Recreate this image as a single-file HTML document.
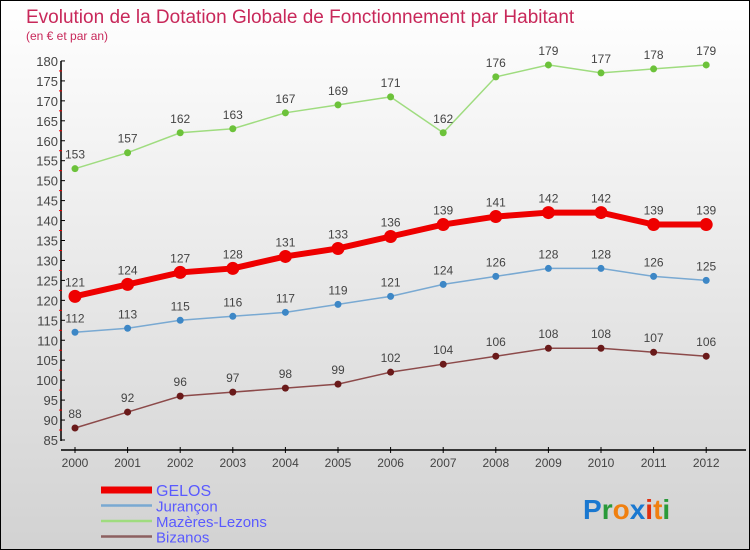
<!DOCTYPE html>
<html><head><meta charset="utf-8"><style>
body{margin:0}
#c{position:relative;width:748px;height:548px;border:1px solid #000;background:linear-gradient(#ffffff,#d2d2d2);font-family:"Liberation Sans",sans-serif;overflow:hidden}
</style></head><body>
<div id="c">
<svg id="s" width="748" height="548" xmlns="http://www.w3.org/2000/svg">
<text x="25" y="22" font-size="19" fill="#c8285a">Evolution de la Dotation Globale de Fonctionnement par Habitant</text>
<text x="25" y="39" font-size="12" fill="#c8285a">(en € et par an)</text>
</svg>
</div>
<script>
const years=[2000,2001,2002,2003,2004,2005,2006,2007,2008,2009,2010,2011,2012];
const gelos=[121,124,127,128,131,133,136,139,141,142,142,139,139];
const jurancon=[112,113,115,116,117,119,121,124,126,128,128,126,125];
const mazeres=[153,157,162,163,167,169,171,162,176,179,177,178,179];
const bizanos=[88,92,96,97,98,99,102,104,106,108,108,107,106];
const yTicks=[85,90,95,100,105,110,115,120,125,130,135,140,145,150,155,160,165,170,175,180];
const ns="http://www.w3.org/2000/svg";
const s=document.getElementById('s');
const X=i=>74+i*52.6;
const Y=v=>439-(v-85)*3.99;
function mk(t,a,p){const e=document.createElementNS(ns,t);for(const k in a)e.setAttribute(k,a[k]);(p||s).appendChild(e);return e;}
const ya=mk('line',{x1:60,y1:Y(180),x2:60,y2:Y(85)+1,stroke:'#000','stroke-width':1.5});


yTicks.forEach((v,k)=>{
 mk('line',{x1:60,y1:Y(v),x2:64,y2:Y(v),stroke:'#000'});
 if(k<yTicks.length-1) mk('line',{x1:58,y1:Y(v+2.5),x2:61,y2:Y(v+2.5),stroke:'#e00'});
 const t=mk('text',{x:57,y:Y(v)+5,'text-anchor':'end','font-size':13,fill:'#444'});t.textContent=v;
 
 
});
const xa=mk('line',{x1:60,y1:449,x2:745,y2:449,stroke:'#000','stroke-width':1.5});


years.forEach((y,i)=>{
 mk('line',{x1:X(i),y1:446,x2:X(i),y2:452,stroke:'#000'});
 const t=mk('text',{x:X(i),y:466,'text-anchor':'middle','font-size':12,fill:'#444'});t.textContent=y;
 
 
});
function series(d,col,dot,w,r,name){
 const g=mk('g',{});
 
 
 mk('polyline',{points:d.map((v,i)=>X(i)+','+Y(v)).join(' '),fill:'none',stroke:col,'stroke-width':w},g);
 d.forEach((v,i)=>{
  const c=mk('circle',{cx:X(i),cy:Y(v),r:r,fill:dot},g);
  
  
  const t=mk('text',{x:X(i),y:Y(v)-10,'text-anchor':'middle','font-size':12,fill:'#444'},g);t.textContent=v;
  
  
 });
}
series(mazeres,'#9fdc7f','#6cc23a',1.5,3.5,'series-mazeres');
series(jurancon,'#79a9d2','#3d87c6',1.5,3.5,'series-jurancon');
series(bizanos,'#8c4a4a','#6a1a1a',1.5,3.5,'series-bizanos');
series(gelos,'#ee0000','#ee0000',6,6.5,'series-gelos');
const leg=[['GELOS','#ee0000',7],['Jurançon','#79a9d2',2.5],['Mazères-Lezons','#9fdc7f',2.5],['Bizanos','#8c6060',2.5]];
leg.forEach((l,i)=>{
 const g=mk('g',{});
 
 
 const y=492+i*15.5;
 mk('line',{x1:100,y1:y-3,x2:151,y2:y-3,stroke:l[1],'stroke-width':l[2]},g);
 const t=mk('text',{x:155,y:y+3,'font-size':i==0?16:15,fill:'#5a5aff'},g);t.textContent=l[0];
});
const p=mk('text',{x:582,y:518,'font-size':28,'font-weight':'bold'});


[['P','#1a78d0'],['r','#2a9a3a'],['o','#f08010'],['x','#1a78d0'],['i','#e03010'],['t','#f08010'],['i','#2a9a3a']].forEach(c=>{const ts=mk('tspan',{fill:c[1]},p);ts.textContent=c[0];});
</script>
</body></html>
